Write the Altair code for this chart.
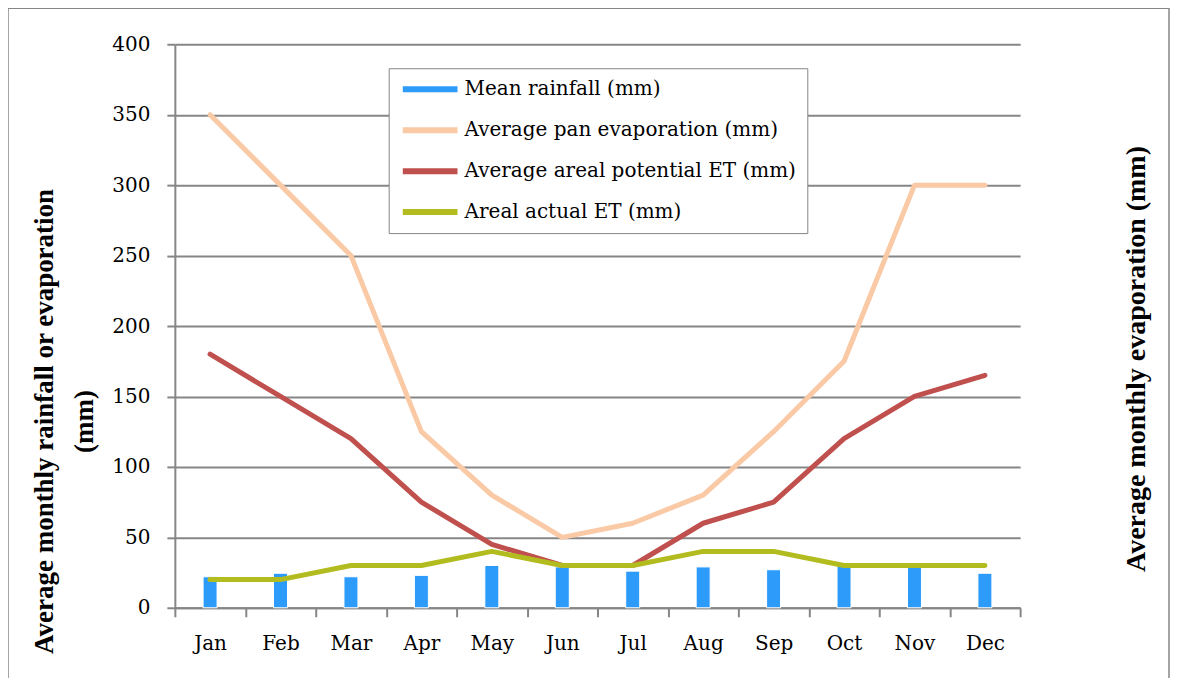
import altair as alt
import pandas as pd

months = ["Jan", "Feb", "Mar", "Apr", "May", "Jun", "Jul", "Aug", "Sep", "Oct", "Nov", "Dec"]
rainfall = [22, 24.5, 22, 23, 30, 29, 26, 29, 27, 30, 29, 24.5]
pan_evap = [350, 300, 250, 125, 80, 50, 60, 80, 125, 175, 300, 300]
pot_et = [180, 150, 120, 75, 45, 30, 30, 60, 75, 120, 150, 165]
act_et = [20, 20, 30, 30, 40, 30, 30, 40, 40, 30, 30, 30]

series_names = [
    "Mean rainfall (mm)",
    "Average pan evaporation (mm)",
    "Average areal potential ET (mm)",
    "Areal actual ET (mm)",
]
series_colors = ["#2C9BFA", "#FAC9A5", "#C0504D", "#B3BC1E"]
left_title = ["Average monthly rainfall or evaporation", "(mm)"]
right_title = "Average monthly evaporation (mm)"
y_ticks = [0, 50, 100, 150, 200, 250, 300, 350, 400]

rows = []
for name, vals in zip(series_names, [rainfall, pan_evap, pot_et, act_et]):
    for m, v in zip(months, vals):
        rows.append({"month": m, "value": v, "series": name})
df = pd.DataFrame(rows)

LABEL_FONT = "DejaVu Serif"
TITLE_FONT = "Liberation Serif"
GREY = "#868686"

color_scale = alt.Scale(domain=series_names, range=series_colors)

x_enc = alt.X(
    "month:N",
    sort=months,
    scale=alt.Scale(paddingInner=0, paddingOuter=0),
    axis=alt.Axis(
        title=None,
        labelAngle=0,
        labelFont=LABEL_FONT,
        labelFontSize=20,
        labelColor="#000000",
        labelPadding=17,
        tickBand="extent",
        tickSize=9,
        tickWidth=2,
        tickColor=GREY,
        domainColor=GREY,
        domainWidth=2,
        grid=False,
    ),
)

y_enc = alt.Y(
    "value:Q",
    scale=alt.Scale(domain=[0, 400], nice=False, zero=True),
    axis=alt.Axis(
        values=y_ticks,
        title=left_title,
        titleFont=TITLE_FONT,
        titleFontSize=27,
        titleFontWeight="bold",
        titleColor="#000000",
        titleAngle=-90,
        titleAlign="center",
        titleBaseline="top",
        titleX=-143,
        titleY=377,
        titleLineHeight=40,
        labelFont=LABEL_FONT,
        labelFontSize=20,
        labelColor="#000000",
        labelPadding=17,
        tickSize=8,
        tickWidth=2,
        tickColor=GREY,
        domainColor=GREY,
        domainWidth=2,
        grid=True,
        gridColor=GREY,
        gridWidth=2,
    ),
)

color_enc = alt.Color(
    "series:N",
    scale=color_scale,
    legend=alt.Legend(
        title=None,
        orient="none",
        legendX=214,
        legendY=24,
        symbolType="stroke",
        symbolSize=3000,
        symbolStrokeWidth=6,
        clipHeight=20,
        rowPadding=21,
        labelFont=LABEL_FONT,
        labelFontSize=20,
        labelColor="#000000",
        labelOffset=4,
        padding=11,
        strokeColor=GREY,
        fillColor="#FFFFFF",
        labelLimit=400,
    ),
)

base = alt.Chart(df)

bars = base.mark_bar(size=14, stroke="#FFFFFF", strokeWidth=1).encode(
    x=x_enc, y=y_enc, color=color_enc
).transform_filter(alt.datum.series == series_names[0])

lines = []
for name in series_names[1:]:
    lines.append(
        base.mark_line(strokeWidth=5, strokeCap="round", strokeJoin="round")
        .encode(x=x_enc, y=y_enc, color=color_enc)
        .transform_filter(alt.datum.series == name)
    )

deco_df = pd.DataFrame({"t": [right_title]})
right_text = alt.Chart(deco_df).mark_text(
    angle=270,
    font=TITLE_FONT,
    fontSize=28,
    fontWeight="bold",
    color="#000000",
    align="center",
    baseline="middle",
).encode(text="t:N", x=alt.value(963), y=alt.value(315))

frame = alt.Chart(deco_df).mark_rect(
    fill="transparent", stroke=GREY, strokeWidth=1.5
).encode(x=alt.value(-167), x2=alt.value(995), y=alt.value(-36), y2=alt.value(700))

chart = alt.layer(frame, bars, *lines, right_text).properties(
    width=846,
    height=564,
    autosize=alt.AutoSizeParams(type="none"),
    padding={"left": 167, "top": 36, "right": 150, "bottom": 70},
).configure_view(stroke=None)

chart.save("out.html", embed_options={"renderer": "svg", "actions": False})
